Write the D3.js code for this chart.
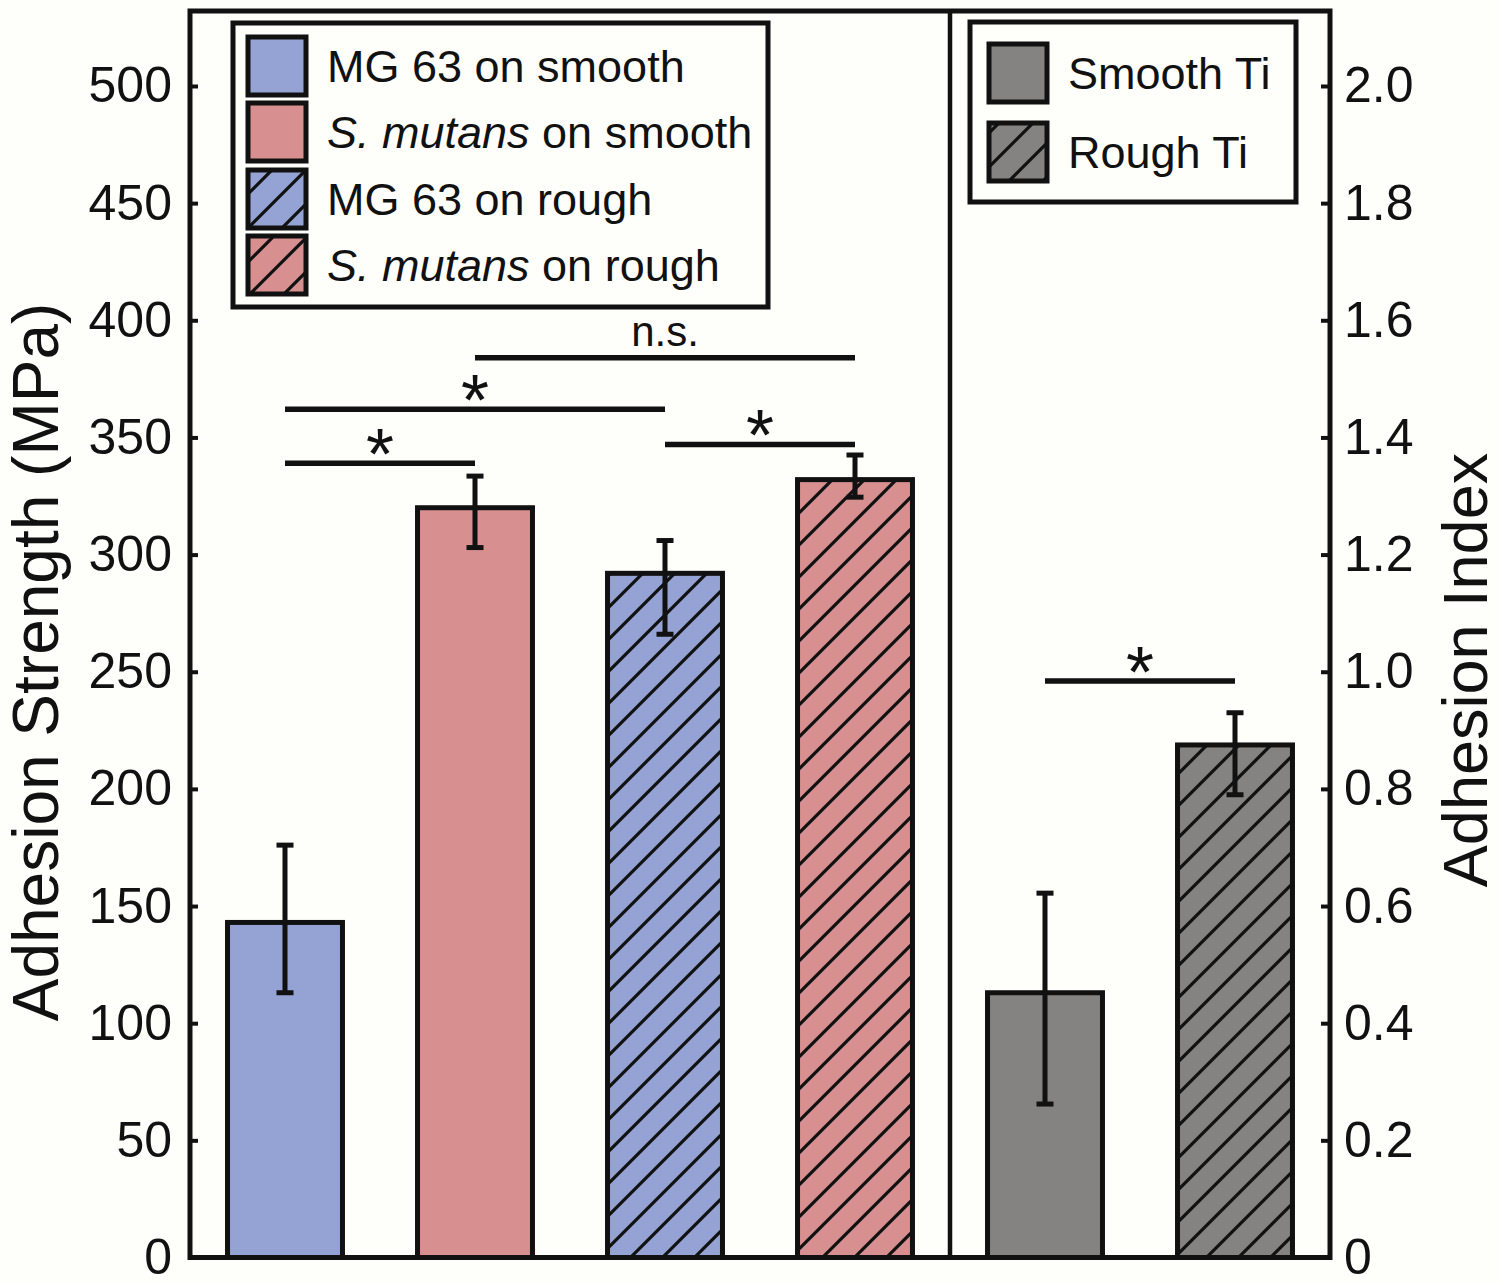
<!DOCTYPE html>
<html>
<head>
<meta charset="utf-8">
<script src="https://cdn.jsdelivr.net/npm/d3@7"></script>
<style>
  html, body { margin: 0; padding: 0; background: #fefefa; }
  svg { display: block; }
  text { font-family: "Liberation Sans", Arial, sans-serif; fill: #111; }
</style>
</head>
<body>
<svg id="chart" width="1500" height="1284"></svg>
<script>
// ---------------- data ----------------
const categories = ["MG 63 on smooth", "S. mutans on smooth", "MG 63 on rough", "S. mutans on rough", "Smooth Ti", "Rough Ti"];
const groupOf    = ["strength", "strength", "strength", "strength", "index", "index"];
const colorKey   = ["blue", "pink", "blue", "pink", "gray", "gray"];
const hatched    = [false, false, true, true, false, true];

// Adhesion strength (MPa): mean, lower end, upper end of error bar
const strengthMean = [143, 320, 292, 332];
const strengthLow  = [113, 303, 266, 324.5];
const strengthHigh = [176, 333.5, 306, 342.5];

// Adhesion index
const indexMean = [0.452, 0.875];
const indexLow  = [0.262, 0.79];
const indexHigh = [0.622, 0.93];

const leftTicks  = [0, 50, 100, 150, 200, 250, 300, 350, 400, 450, 500];
const rightTicks = [0, 0.2, 0.4, 0.6, 0.8, 1.0, 1.2, 1.4, 1.6, 1.8, 2.0];

// significance brackets: from bar, to bar, height (in that panel's units), label
const sigFrom   = [0, 0, 1, 2, 4];
const sigTo     = [1, 2, 3, 3, 5];
const sigY      = [339, 362, 384, 347, 0.984];
const sigLabel  = ["*", "*", "n.s.", "*", "*"];

const legend1Items = [0, 1, 2, 3];
const legend2Items = [4, 5];
const legend2Labels = ["Smooth Ti", "Rough Ti"];

// ---------------- styling ----------------
const colors = { blue: "#94a3d3", pink: "#d78f90", gray: "#858381" };

const svg = d3.select("#chart");
const W = 1500, H = 1284;
const frame = { left: 190, right: 1330, top: 11, bottom: 1257.5 };

svg.append("rect").attr("width", W).attr("height", H).attr("fill", "#fefefa");

// patterns
const defs = svg.append("defs");
function makePattern(id, base, size, sw) {
  const p = defs.append("pattern").attr("id", id)
    .attr("patternUnits", "userSpaceOnUse")
    .attr("width", size).attr("height", size);
  p.append("rect").attr("width", size).attr("height", size).attr("fill", base);
  p.append("path")
    .attr("d", `M${-size/4},${size/4} L${size/4},${-size/4} M0,${size} L${size},0 M${size*3/4},${size*5/4} L${size*5/4},${size*3/4}`)
    .attr("stroke", "#111").attr("stroke-width", sw).attr("fill", "none");
}
Object.keys(colors).forEach(k => {
  makePattern("hatch-" + k, colors[k], 32, 3.2);
  makePattern("hatchL-" + k, colors[k], 34, 3.2);
});
function fillFor(i, legend) {
  if (!hatched[i]) return colors[colorKey[i]];
  return `url(#${legend ? "hatchL-" : "hatch-"}${colorKey[i]})`;
}

// ---------------- scales ----------------
const x = d3.scaleBand().domain(categories)
  .range([frame.left, frame.right])
  .paddingInner(0.395).paddingOuter(0.1975);

const yL = d3.scaleLinear().domain([0, 532]).range([frame.bottom, frame.top]);
const yR = d3.scaleLinear().domain([0, 532 / 250]).range([frame.bottom, frame.top]);

function yFor(i) { return groupOf[i] === "strength" ? yL : yR; }
function meanOf(i) { return i < 4 ? strengthMean[i] : indexMean[i - 4]; }
function lowOf(i)  { return i < 4 ? strengthLow[i]  : indexLow[i - 4]; }
function highOf(i) { return i < 4 ? strengthHigh[i] : indexHigh[i - 4]; }

const idx = d3.range(categories.length);

// ---------------- bars ----------------
svg.append("g").selectAll("rect").data(idx).join("rect")
  .attr("x", i => x(categories[i]))
  .attr("width", x.bandwidth())
  .attr("y", i => yFor(i)(meanOf(i)))
  .attr("height", i => frame.bottom - yFor(i)(meanOf(i)))
  .attr("fill", i => fillFor(i, false))
  .attr("stroke", "#111").attr("stroke-width", 5);

// ---------------- error bars ----------------
const eb = svg.append("g").attr("stroke", "#111").attr("stroke-width", 5).attr("fill", "none");
const capW = 17;
idx.forEach(i => {
  const cx = x(categories[i]) + x.bandwidth() / 2;
  const y = yFor(i);
  eb.append("line").attr("x1", cx).attr("x2", cx).attr("y1", y(lowOf(i))).attr("y2", y(highOf(i)));
  eb.append("line").attr("x1", cx - capW / 2).attr("x2", cx + capW / 2).attr("y1", y(lowOf(i))).attr("y2", y(lowOf(i)));
  eb.append("line").attr("x1", cx - capW / 2).attr("x2", cx + capW / 2).attr("y1", y(highOf(i))).attr("y2", y(highOf(i)));
});

// ---------------- frame, divider ----------------
svg.append("rect")
  .attr("x", frame.left).attr("y", frame.top)
  .attr("width", frame.right - frame.left).attr("height", frame.bottom - frame.top)
  .attr("fill", "none").attr("stroke", "#111").attr("stroke-width", 5);
const divX = (x(categories[3]) + x.bandwidth() + x(categories[4])) / 2;
svg.append("line").attr("x1", divX).attr("x2", divX).attr("y1", frame.top).attr("y2", frame.bottom)
  .attr("stroke", "#111").attr("stroke-width", 4.5);

// ---------------- axes ----------------
const axL = d3.axisLeft(yL).tickValues(leftTicks).tickSizeInner(-8).tickSizeOuter(0).tickPadding(18)
  .tickFormat(d3.format("d"));
const gL = svg.append("g").attr("transform", `translate(${frame.left},0)`).call(axL);
const axR = d3.axisRight(yR).tickValues(rightTicks).tickSizeInner(-9).tickSizeOuter(0).tickPadding(14)
  .tickFormat(d => d === 0 ? "0" : d3.format(".1f")(d));
const gR = svg.append("g").attr("transform", `translate(${frame.right},0)`).call(axR);
[gL, gR].forEach(g => {
  g.select(".domain").remove();
  g.selectAll(".tick line").attr("stroke", "#111").attr("stroke-width", 4);
  g.selectAll(".tick text").attr("font-size", 50).attr("fill", "#111")
    .attr("font-family", '"Liberation Sans", Arial, sans-serif');
});

// axis titles
svg.append("text").attr("transform", `translate(58,662) rotate(-90)`)
  .attr("text-anchor", "middle").attr("font-size", 64).text("Adhesion Strength (MPa)");
svg.append("text").attr("transform", `translate(1487,670) rotate(-90)`)
  .attr("text-anchor", "middle").attr("font-size", 63).text("Adhesion Index");

// ---------------- significance brackets ----------------
const sg = svg.append("g");
sigFrom.forEach((a, k) => {
  const b = sigTo[k];
  const y = yFor(a)(sigY[k]);
  const x1 = x(categories[a]) + x.bandwidth() / 2;
  const x2 = x(categories[b]) + x.bandwidth() / 2;
  sg.append("line").attr("x1", x1).attr("x2", x2).attr("y1", y).attr("y2", y)
    .attr("stroke", "#111").attr("stroke-width", 5.5);
  const lbl = sigLabel[k];
  if (lbl === "*") {
    sg.append("text").attr("x", (x1 + x2) / 2).attr("y", y + 16)
      .attr("text-anchor", "middle").attr("font-size", 72).text(lbl);
  } else {
    sg.append("text").attr("x", (x1 + x2) / 2).attr("y", y - 12)
      .attr("text-anchor", "middle").attr("font-size", 42).text(lbl);
  }
});

// ---------------- legends ----------------
function drawLegend(box, items, labels, rowYs, swX, textX) {
  const g = svg.append("g");
  g.append("rect").attr("x", box.x).attr("y", box.y).attr("width", box.w).attr("height", box.h)
    .attr("fill", "#fefefa").attr("stroke", "#111").attr("stroke-width", 5);
  items.forEach((i, r) => {
    const cy = rowYs[r];
    g.append("rect").attr("x", swX).attr("y", cy - 29).attr("width", 58).attr("height", 58)
      .attr("fill", fillFor(i, true)).attr("stroke", "#111").attr("stroke-width", 5);
    const t = g.append("text").attr("x", textX).attr("y", cy + 16).attr("font-size", 45);
    const label = labels[r];
    const m = label.match(/^(S\. mutans)(.*)$/);
    if (m) {
      t.append("tspan").attr("font-style", "italic").text(m[1]);
      t.append("tspan").text(m[2]);
    } else {
      t.text(label);
    }
  });
}
drawLegend({ x: 233, y: 23, w: 535, h: 284 }, legend1Items,
  legend1Items.map(i => categories[i]), [66, 132, 199, 265], 248, 327);
drawLegend({ x: 970, y: 22, w: 326, h: 180 }, legend2Items,
  legend2Labels, [73, 152], 989, 1068);
</script>
</body>
</html>
